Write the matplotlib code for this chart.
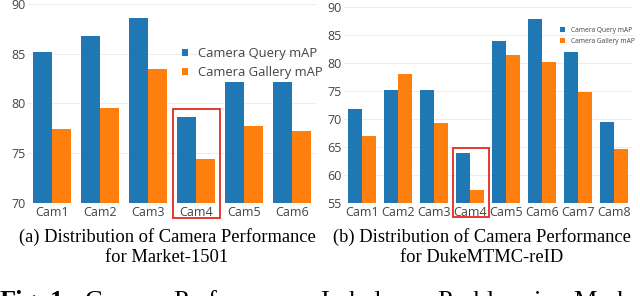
import matplotlib
matplotlib.use("Agg")
import matplotlib.pyplot as plt
import numpy as np
from matplotlib.patches import Rectangle

# Data
cams_a = ["Cam1", "Cam2", "Cam3", "Cam4", "Cam5", "Cam6"]
query_a = [85.2, 86.8, 88.6, 78.6, 82.2, 82.2]
gallery_a = [77.4, 79.5, 83.5, 74.4, 77.7, 77.2]
yticks_a = [70, 75, 80, 85, 90]

cams_b = ["Cam1", "Cam2", "Cam3", "Cam4", "Cam5", "Cam6", "Cam7", "Cam8"]
query_b = [71.7, 75.2, 75.2, 63.9, 84.0, 87.8, 82.0, 69.4]
gallery_b = [67.0, 78.0, 69.2, 57.4, 81.4, 80.1, 74.9, 64.6]
yticks_b = [55, 60, 65, 70, 75, 80, 85, 90]

labels = ["Camera Query mAP", "Camera Gallery mAP"]
caption_a = ["(a) Distribution of Camera Performance", "for Market-1501"]
caption_b = ["(b) Distribution of Camera Performance", "for DukeMTMC-reID"]

BLUE = "#1f77b4"
ORANGE = "#ff7f0e"
TICK_COLOR = "#444444"
FONT = "Open Sans"

W, H = 640, 296
fig = plt.figure(figsize=(6.4, 2.96), dpi=100)


def px_axes(x0, y0, x1, y1):
    return fig.add_axes([x0 / W, 1 - y1 / H, (x1 - x0) / W, (y1 - y0) / H])


def draw(ax, cams, q, g, yticks, ylim, legend_fs, legend_anchor, hl, tp, ls):
    x = np.arange(len(cams))
    w = 0.4
    ax.bar(x - w / 2, q, w, color=BLUE, label=labels[0], zorder=2)
    ax.bar(x + w / 2, g, w, color=ORANGE, label=labels[1], zorder=2)
    ax.set_xlim(-0.5, len(cams) - 0.5)
    ax.set_ylim(*ylim)
    ax.set_yticks(yticks)
    ax.set_xticks(x)
    ax.set_xticklabels(cams)
    for s in ax.spines.values():
        s.set_visible(False)
    ax.tick_params(length=0, colors=TICK_COLOR, labelsize=9, pad=2)
    for t in ax.get_xticklabels() + ax.get_yticklabels():
        t.set_fontfamily(FONT)
    ax.grid(axis="y", color="#ededed", linewidth=0.8, zorder=0)
    ax.set_axisbelow(True)
    leg = ax.legend(loc="upper left", bbox_to_anchor=legend_anchor, frameon=False,
                    prop={"family": FONT, "size": legend_fs},
                    handlelength=hl, handleheight=hl, handletextpad=tp,
                    labelspacing=ls, borderaxespad=0, borderpad=0)
    for t in leg.get_texts():
        t.set_color(TICK_COLOR)
    return ax


ax1 = px_axes(28, 4, 316, 203)
draw(ax1, cams_a, query_a, gallery_a, yticks_a, (70, 90), 9.4, (0.535, 0.785),
     0.45, 0.75, 0.45)
ax2 = px_axes(344, 7, 632, 203)
draw(ax2, cams_b, query_b, gallery_b, yticks_b, (55, 90), 4.8, (0.75, 0.9),
     0.8, 0.8, 0.6)

# red highlight boxes (figure pixel coordinates)
for (x0, y0, x1, y1) in [(173, 109, 220, 218), (453, 148, 489, 217)]:
    fig.add_artist(Rectangle((x0 / W, 1 - y1 / H), (x1 - x0) / W, (y1 - y0) / H,
                             transform=fig.transFigure, fill=False,
                             edgecolor="#e8281e", linewidth=1.3, zorder=10))

SERIF = "Liberation Serif"
for cx, cap in [(167, caption_a), (482, caption_b)]:
    fig.text(cx / W, 1 - 242 / H, cap[0], ha="center", va="baseline",
             family=SERIF, fontsize=13.3)
    fig.text(cx / W, 1 - 262 / H, cap[1], ha="center", va="baseline",
             family=SERIF, fontsize=13.3)

# figure caption line at the bottom edge (cut off by the image border, as in the reference)
words = [("Fig.", 0, "bold"), ("1:", 50, "bold"), ("Camera", 85, "normal"),
         ("Performance", 173, "normal"), ("Imbalance", 320, "normal"),
         ("Problem", 437, "normal"), ("in", 533, "normal"), ("Market", 573, "normal")]
for wtxt, xp, wt in words:
    fig.text(xp / W, 1 - 308 / H, wtxt, ha="left", va="baseline",
             family=SERIF, fontsize=19, fontweight=wt)

fig.savefig("out.png", dpi=100)
